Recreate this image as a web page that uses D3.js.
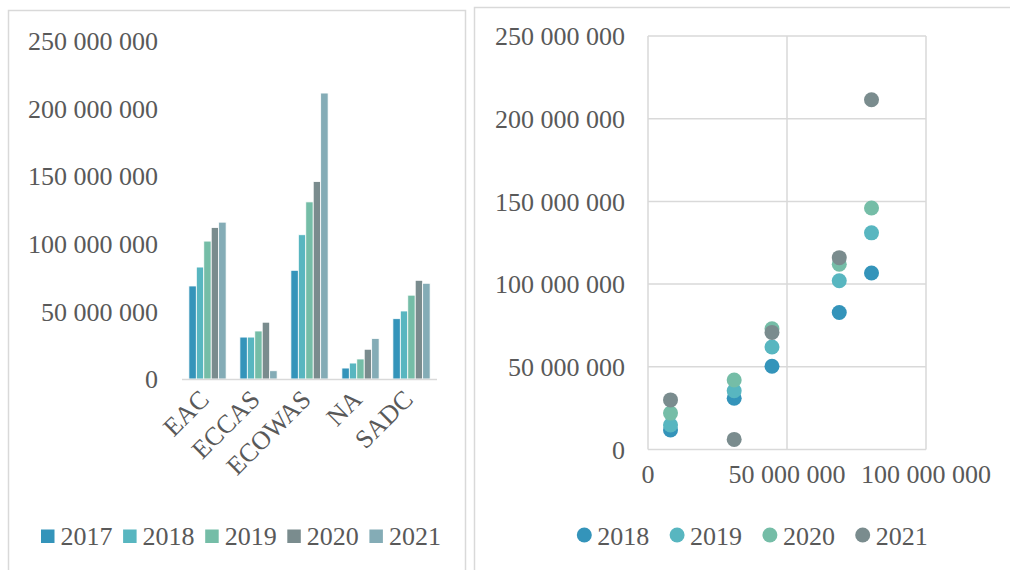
<!DOCTYPE html>
<html>
<head>
<meta charset="utf-8">
<script src="https://cdn.jsdelivr.net/npm/d3@7"></script>
<style>
  body { margin: 0; background: #fff; }
  svg text { font-family: "Liberation Serif", "Times New Roman", serif; fill: #595959; }
</style>
</head>
<body>
<svg id="chart" width="1010" height="570"></svg>
<script>
// regions and yearly values
const categories = ["EAC", "ECCAS", "ECOWAS", "NA", "SADC"];
const years = ["2017", "2018", "2019", "2020", "2021"];
const v2017 = [68.8e6, 31.0e6, 80.4e6, 8.1e6, 44.6e6];
const v2018 = [82.8e6, 31.0e6, 106.7e6, 11.8e6, 50.3e6];
const v2019 = [102.0e6, 35.5e6, 131.0e6, 14.8e6, 62.0e6];
const v2020 = [112.0e6, 42.0e6, 146.0e6, 22.0e6, 73.0e6];
const v2021 = [116.0e6, 6.1e6, 211.5e6, 30.0e6, 70.8e6];
const yTicks = [0, 50e6, 100e6, 150e6, 200e6, 250e6];
const xTicks = [0, 50e6, 100e6];
const colors = ["#3494BA", "#58B6C0", "#75BDA7", "#7A8C8E", "#84ACB6"];

const series = [v2017, v2018, v2019, v2020, v2021];
const fmt = v => d3.format(",")(v).replace(/,/g, " ");
const grid = "#d9d9d9";

const svg = d3.select("#chart");

// panel frames
svg.append("path")
  .attr("d", "M8.5,570 V10.5 H465.5 V570")
  .attr("fill", "none").attr("stroke", grid).attr("stroke-width", 1.5);
svg.append("path")
  .attr("d", "M474.5,570 V7.5 H1010")
  .attr("fill", "none").attr("stroke", grid).attr("stroke-width", 1.5);

// ---------- left: grouped bars ----------
const x0 = d3.scaleBand().domain(categories).range([182, 437])
  .paddingInner(0.27).paddingOuter(0.135);
const x1 = d3.scaleBand().domain(years).range([0, x0.bandwidth()]);
const yL = d3.scaleLinear().domain([0, 250e6]).range([379, 41]);

svg.append("g").selectAll("text")
  .data(yTicks).enter().append("text")
  .attr("x", 158).attr("y", d => yL(d)).attr("dy", "0.35em")
  .attr("text-anchor", "end").attr("font-size", 26)
  .text(fmt);

const groups = svg.append("g").selectAll("g")
  .data(categories).enter().append("g")
  .attr("transform", d => `translate(${x0(d)},0)`);

groups.selectAll("rect")
  .data((c, i) => years.map((y, j) => ({ year: y, j: j, value: series[j][i] })))
  .enter().append("rect")
  .attr("x", d => x1(d.year))
  .attr("y", d => yL(d.value))
  .attr("width", x1.bandwidth())
  .attr("height", d => yL(0) - yL(d.value))
  .attr("fill", d => colors[d.j])
  .attr("stroke", "#fff").attr("stroke-width", 0.8);

svg.append("line")
  .attr("x1", 182).attr("x2", 437).attr("y1", 379.5).attr("y2", 379.5)
  .attr("stroke", grid).attr("stroke-width", 1.5);

svg.append("g").selectAll("text")
  .data(categories).enter().append("text")
  .attr("transform", d => `translate(${x0(d) + x0.bandwidth() / 2 + 3},401) rotate(-45)`)
  .attr("text-anchor", "end").attr("font-size", 26)
  .text(d => d);

const legL = svg.append("g").selectAll("g")
  .data(years).enter().append("g")
  .attr("transform", (d, i) => `translate(${41 + i * 82.1},0)`);
legL.append("rect")
  .attr("x", 0).attr("y", 529.5).attr("width", 13.5).attr("height", 13.5)
  .attr("fill", (d, i) => colors[i]);
legL.append("text")
  .attr("x", 19.5).attr("y", 545).attr("font-size", 26)
  .text(d => d);

// ---------- right: scatter of 2018-2021 against 2017 ----------
const xR = d3.scaleLinear().domain([0, 100e6]).range([648, 926]);
const yR = d3.scaleLinear().domain([0, 250e6]).range([449.5, 36]);

const gridG = svg.append("g").attr("stroke", grid).attr("stroke-width", 1.5);
gridG.selectAll("line.h")
  .data(yTicks).enter().append("line")
  .attr("x1", xR(0)).attr("x2", xR(100e6))
  .attr("y1", d => yR(d)).attr("y2", d => yR(d));
gridG.selectAll("line.v")
  .data(xTicks).enter().append("line")
  .attr("y1", yR(0)).attr("y2", yR(250e6))
  .attr("x1", d => xR(d)).attr("x2", d => xR(d));

svg.append("g").selectAll("text")
  .data(yTicks).enter().append("text")
  .attr("x", 625).attr("y", d => yR(d)).attr("dy", "0.35em")
  .attr("text-anchor", "end").attr("font-size", 26)
  .text(fmt);

svg.append("g").selectAll("text")
  .data(xTicks).enter().append("text")
  .attr("x", d => xR(d)).attr("y", 483)
  .attr("text-anchor", "middle").attr("font-size", 26)
  .text(fmt);

const scatterYears = years.slice(1);
scatterYears.forEach((yr, k) => {
  const vals = series[k + 1];
  svg.append("g").selectAll("circle")
    .data(categories.map((c, i) => ({ x: v2017[i], y: vals[i] })))
    .enter().append("circle")
    .attr("cx", d => xR(d.x)).attr("cy", d => yR(d.y))
    .attr("r", 7.5)
    .attr("fill", colors[k]);
});

const legR = svg.append("g").selectAll("g")
  .data(scatterYears).enter().append("g")
  .attr("transform", (d, i) => `translate(${584.3 + i * 92.8},0)`);
legR.append("circle")
  .attr("cx", 0).attr("cy", 535).attr("r", 7.5)
  .attr("fill", (d, i) => colors[i]);
legR.append("text")
  .attr("x", 13).attr("y", 545).attr("font-size", 26)
  .text(d => d);
</script>
</body>
</html>
